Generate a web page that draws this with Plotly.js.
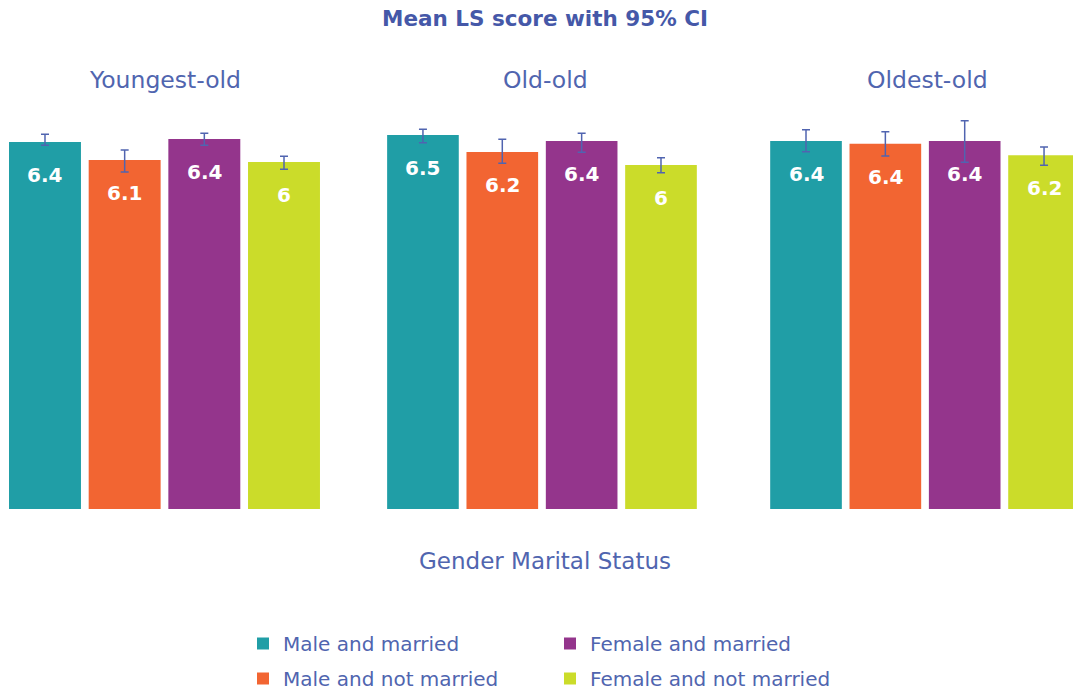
<!DOCTYPE html>
<html>
<head>
<meta charset="utf-8">
<script src="https://cdn.plot.ly/plotly-3.0.1.min.js"></script>
<style>html,body{margin:0;padding:0;background:#fff;overflow:hidden}#chart{width:1073px;height:691px}</style>
</head>
<body>
<div id="chart"></div>
<script>
// Age groups (facets)
const groups = ['Youngest-old', 'Old-old', 'Oldest-old'];
// Bar order within each facet
const barOrder = ['Male and married', 'Male and not married', 'Female and married', 'Female and not married'];

// Mean LS score per series, one value per age group
const maleMarried        = [6.383, 6.504, 6.400];
const maleNotMarried     = [6.070, 6.209, 6.351];
const femaleMarried      = [6.435, 6.400, 6.400];
const femaleNotMarried   = [6.035, 5.983, 6.151];

// 95% CI bounds
const maleMarriedLow      = [6.325, 6.370, 6.214];
const maleMarriedHigh     = [6.517, 6.603, 6.597];
const maleNotMarriedLow   = [5.861, 6.012, 6.139];
const maleNotMarriedHigh  = [6.243, 6.430, 6.562];
const femaleMarriedLow    = [6.325, 6.203, 6.030];
const femaleMarriedHigh   = [6.534, 6.534, 6.753];
const femaleNotMarriedLow = [5.908, 5.849, 5.977];
const femaleNotMarriedHigh= [6.134, 6.110, 6.296];

const seriesData = {
  'Male and married':       {v: maleMarried,      lo: maleMarriedLow,      hi: maleMarriedHigh,      color: '#209EA6', legend: 'legend'},
  'Male and not married':   {v: maleNotMarried,   lo: maleNotMarriedLow,   hi: maleNotMarriedHigh,   color: '#F26532', legend: 'legend'},
  'Female and married':     {v: femaleMarried,    lo: femaleMarriedLow,    hi: femaleMarriedHigh,    color: '#94358C', legend: 'legend2'},
  'Female and not married': {v: femaleNotMarried, lo: femaleNotMarriedLow, hi: femaleNotMarriedHigh, color: '#CBDC2A', legend: 'legend2'}
};

const blue = '#4558A8';
const textBlue = '#5065AF';
const fontFam = '"DejaVu Sans", "Open Sans", sans-serif';

const fmt = v => String(Math.round(v * 10) / 10);

const traces = [];
const annotations = [];
barOrder.forEach(name => {
  const s = seriesData[name];
  groups.forEach((g, gi) => {
    const ax = gi === 0 ? '' : String(gi + 1);
    traces.push({
      type: 'bar',
      name: name,
      legend: s.legend,
      legendgroup: name,
      showlegend: gi === 0,
      x: [name],
      y: [s.v[gi]],
      xaxis: 'x' + ax,
      yaxis: 'y' + ax,
      marker: {color: s.color},
      error_y: {
        type: 'data', symmetric: false,
        array: [s.hi[gi] - s.v[gi]],
        arrayminus: [s.v[gi] - s.lo[gi]],
        color: '#5064B0', thickness: 1.5, width: 4
      },
      hoverinfo: 'y'
    });
    annotations.push({
      xref: 'x' + ax, yref: 'y' + ax,
      x: name, y: s.v[gi], yshift: -33,
      text: '<b>' + fmt(s.v[gi]) + '</b>',
      showarrow: false,
      font: {family: fontFam, size: 20, color: '#ffffff'}
    });
  });
});

// Facet titles
const domains = [[0.0048, 0.3018], [0.3572, 0.6530], [0.7142, 1.0]];
const titleX = [164.5 / 1073, 545 / 1073, 927 / 1073];
groups.forEach((g, gi) => {
  annotations.push({
    xref: 'paper', yref: 'paper', x: titleX[gi], y: (691 - 80) / 691,
    xanchor: 'center', yanchor: 'middle', text: g, showarrow: false,
    font: {family: fontFam, size: 23.5, color: textBlue}
  });
});
annotations.push({
  xref: 'paper', yref: 'paper', x: 545 / 1073, y: (691 - 561) / 691,
  xanchor: 'center', yanchor: 'middle', text: 'Gender Marital Status', showarrow: false,
  font: {family: fontFam, size: 23, color: textBlue}
});

const yDomain = [(691 - 509) / 691, (691 - 106.5) / 691];
const baseX = {
  type: 'category', categoryorder: 'array', categoryarray: barOrder,
  showticklabels: false, showgrid: false, zeroline: false, showline: false, ticks: '', fixedrange: true
};
const baseY = {range: [0, 7], showticklabels: false, showgrid: false, zeroline: false, showline: false, ticks: '', fixedrange: true};

const legendBase = {
  orientation: 'v', xanchor: 'left', y: (691 - 624) / 691, yanchor: 'top',
  font: {family: fontFam, size: 20, color: textBlue},
  traceorder: 'grouped', tracegroupgap: 6, bgcolor: 'rgba(0,0,0,0)', borderwidth: 0
};

const layout = {
  width: 1073, height: 691,
  margin: {l: 0, r: 0, t: 0, b: 0, autoexpand: false},
  paper_bgcolor: '#ffffff', plot_bgcolor: '#ffffff',
  barmode: 'overlay', bargap: 0.097,
  title: {
    text: '<b>Mean LS score with 95% CI</b>',
    x: 545 / 1073, xanchor: 'center', y: (691 - 18) / 691, yanchor: 'middle',
    font: {family: fontFam, size: 21.5, color: blue}
  },
  xaxis:  Object.assign({}, baseX, {domain: domains[0], range: [-0.5, 3.5], anchor: 'y'}),
  xaxis2: Object.assign({}, baseX, {domain: domains[1], range: [-0.5, 3.5], anchor: 'y2'}),
  xaxis3: Object.assign({}, baseX, {domain: domains[2], range: [-0.5, 3.365], anchor: 'y3'}),
  yaxis:  Object.assign({}, baseY, {domain: yDomain, anchor: 'x'}),
  yaxis2: Object.assign({}, baseY, {domain: yDomain, anchor: 'x2'}),
  yaxis3: Object.assign({}, baseY, {domain: yDomain, anchor: 'x3'}),
  legend:  Object.assign({}, legendBase, {x: 243 / 1073}),
  legend2: Object.assign({}, legendBase, {x: 550 / 1073}),
  annotations: annotations,
  showlegend: true
};

Plotly.newPlot('chart', traces, layout, {displayModeBar: false, staticPlot: true});
</script>
</body>
</html>
